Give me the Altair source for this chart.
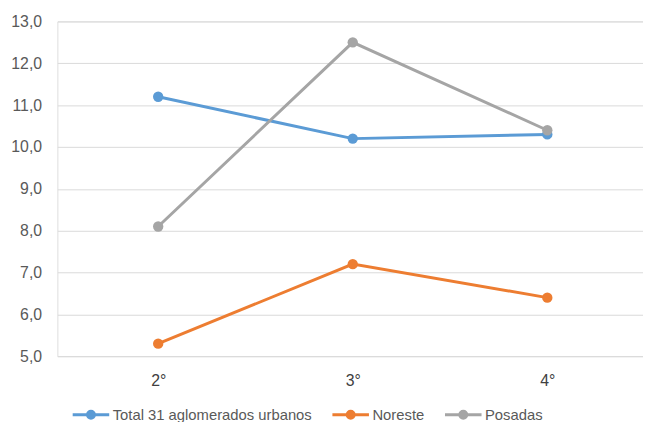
import altair as alt
import pandas as pd

categories = ["2°", "3°", "4°"]
series_names = ["Total 31 aglomerados urbanos", "Noreste", "Posadas"]
total_vals = [11.2, 10.2, 10.3]
noreste_vals = [5.3, 7.2, 6.4]
posadas_vals = [8.1, 12.5, 10.4]
y_ticks = [5, 6, 7, 8, 9, 10, 11, 12, 13]
colors = ["#5B9BD5", "#ED7D31", "#A5A5A5"]

rows = []
for name, vals in zip(series_names, [total_vals, noreste_vals, posadas_vals]):
    for c, v in zip(categories, vals):
        rows.append({"cat": c, "serie": name, "valor": v})
df = pd.DataFrame(rows)

legend_symbol = ("M-1,0L1,0M-0.19,0A0.19,0.19 0 1,1 0.19,0A0.19,0.19 0 1,1 -0.19,0"
                 "M-0.08,0A0.08,0.08 0 1,1 0.08,0A0.08,0.08 0 1,1 -0.08,0")

chart = alt.Chart(df).mark_line(
    strokeWidth=3,
    point=alt.OverlayMarkDef(filled=True, size=110, opacity=1),
).encode(
    x=alt.X("cat:N", sort=categories, title=None,
            scale=alt.Scale(type="point", padding=0.505, align=0.513),
            axis=alt.Axis(labelAngle=0, ticks=False, domain=False, grid=False,
                          labelFontSize=16, labelColor="#404040",
                          labelFont="Liberation Sans", labelPadding=17)),
    y=alt.Y("valor:Q", title=None,
            scale=alt.Scale(domain=[5, 13], nice=False, zero=False),
            axis=alt.Axis(values=y_ticks, format=".1f", ticks=False, domain=False,
                          gridColor="#D9D9D9", gridWidth=1,
                          labelFontSize=16, labelColor="#595959",
                          labelFont="Liberation Sans", labelPadding=16)),
    color=alt.Color("serie:N", sort=series_names,
                    scale=alt.Scale(domain=series_names, range=colors),
                    legend=alt.Legend(title=None, orient="none", direction="horizontal",
                                      legendX=14, legendY=378, columns=3,
                                      symbolType=legend_symbol, symbolSize=1369,
                                      symbolStrokeWidth=3, labelFontSize=15,
                                      labelFont="Liberation Sans", labelColor="#595959",
                                      labelOffset=2, columnPadding=14, labelLimit=0)),
).properties(
    width=593, height=339,
    autosize=alt.AutoSizeParams(type="none"),
    padding={"left": 50, "top": 11, "right": 0, "bottom": 64},
).configure_view(stroke=None).configure(
    locale={"number": {"decimal": ",", "thousands": ".", "grouping": [3], "currency": ["$", ""]}}
)

chart.save("out.html", embed_options={"renderer": "svg", "actions": False})
